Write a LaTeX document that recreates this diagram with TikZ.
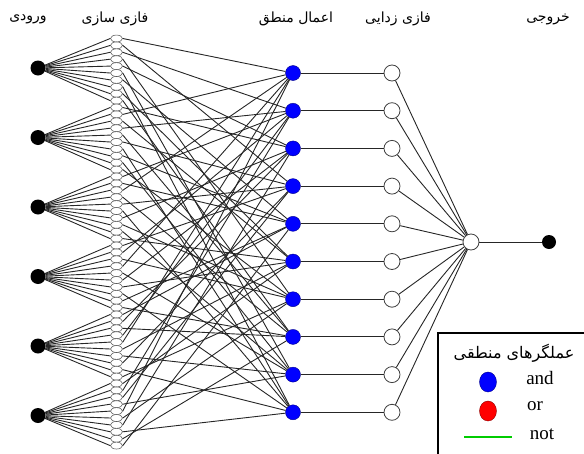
\documentclass[tikz,border=0pt]{standalone}
\usepackage{fontspec}
\newfontfamily\arabicfont[Script=Arabic]{DejaVu Sans}
\newfontfamily\legendfont{Liberation Serif}
\TeXXeTstate=1
\usetikzlibrary{shapes.geometric}
\tikzset{>=latex}
\tikzset{
  wire/.style={draw=black!85, line width=0.9pt},
  indot/.style={circle, fill=black, inner sep=0pt, minimum size=15pt},
  fset/.style={ellipse, draw=black!65, fill=white, line width=0.55pt, inner sep=0pt, minimum width=12pt, minimum height=6.9pt},
  andnode/.style={circle, fill=blue, draw=blue!55!black, inner sep=0pt, minimum size=15pt},
  defz/.style={circle, draw=black!75, fill=white, inner sep=0pt, minimum size=16pt, line width=0.8pt},
  layertitle/.style={font=\arabicfont\fontsize{14}{16}\selectfont},
  legtext/.style={font=\legendfont\fontsize{19}{21}\selectfont}
}

\begin{document}
\begin{tikzpicture}[x=1pt,y=-1pt]
	\useasboundingbox (0,0) rectangle (584,453);
	\clip (0,0) rectangle (584,453);

	% lagen
	\node[layertitle] (tin)  at (28,19)  {\beginR ورودی\endR};
	\node[layertitle] (tfuz) at (115,19) {\beginR فازی سازی\endR};
	\node[layertitle] (trul) at (296,19) {\beginR اعمال منطق\endR};
	\node[layertitle] (tdef) at (398,19) {\beginR فازی زدایی\endR};
	\node[layertitle] (tout) at (548,19) {\beginR خروجی\endR};

	\foreach \i in {0,...,5} {
		\node[indot] (in\i) at (38, {68+69.5*\i}) {};
		\foreach \j in {0,...,9} {
			\node[fset] (f\i-\j) at (116.5, {38.5+6.9*(10*\i+\j)}) {};
		}
	}
	\foreach \k in {1,...,10} {
		\node[andnode] (r\k) at (293, {73+37.7*(\k-1)}) {};
		\node[defz] (d\k) at (392, {73+37.7*(\k-1)}) {};
	}
	\node[defz] (o) at (471,242) {};
	\node[indot, minimum size=14pt] (y) at (549,242) {};

	% verbindungen
	\foreach \perm [count=\i from 0] in {{1,4,2,7,3,9,5,10,6,8},{3,1,6,2,8,4,10,5,9,7},{2,5,1,8,4,10,3,7,9,6},{4,2,7,1,9,3,6,10,5,8},{5,3,8,2,1,6,9,4,10,7},{6,2,4,9,1,7,3,10,8,5}} {
		\foreach \rno [count=\j from 0] in \perm {
			\draw[wire] (in\i) -- (f\i-\j.west);
			\draw[wire] (f\i-\j.east) -- (r\rno);
		}
	}
	\foreach \k in {1,...,10} {
		\draw[wire] (r\k) -- (d\k);
		\draw[wire] (d\k) -- (o);
	}
	\draw[wire] (o) -- (y);

	% legende
	\draw[line width=1.5pt, fill=white] (438,333) rectangle (600,470);
	\node[font=\arabicfont\fontsize{16}{18}\selectfont] (lgt) at (514,353) {\beginR عملگرهای منطقی\endR};
	\node[ellipse, fill=blue, draw=blue!55!black, inner sep=0pt, minimum width=17pt, minimum height=20pt] (land) at (488,382) {};
	\node[legtext] (tand) at (540,378) {and};
	\node[ellipse, fill=red, draw=red!55!black, inner sep=0pt, minimum width=17pt, minimum height=20pt] (lor) at (488,411) {};
	\node[legtext] (tor) at (535,406) {or};
	\coordinate (ga) at (464,437);
	\coordinate (gb) at (512,437);
	\draw[green!80!black, line width=2pt] (ga) -- (gb);
	\node[legtext] (tnot) at (542,434) {not};
\end{tikzpicture}
\end{document}
